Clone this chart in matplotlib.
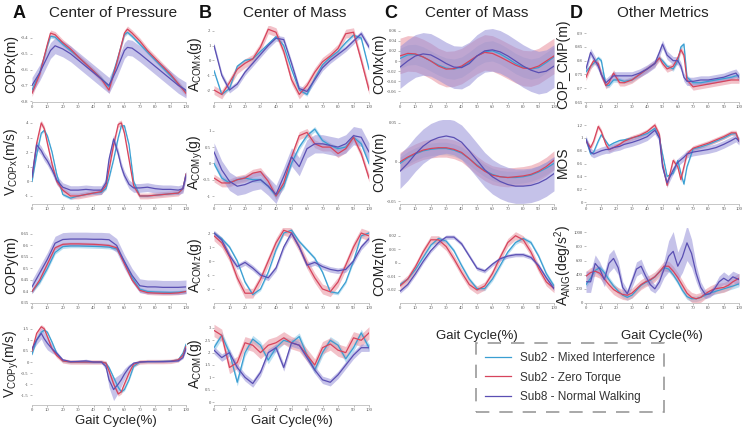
import numpy as np
import matplotlib
matplotlib.use('Agg')
from matplotlib import pyplot as plt
from matplotlib.ticker import FuncFormatter

plt.rcParams['font.family'] = ['Liberation Sans', 'DejaVu Sans']
plt.rcParams['mathtext.fontset'] = 'custom'
plt.rcParams['mathtext.rm'] = 'Liberation Sans'

# ---------------- data ----------------
X5 = list(range(0, 101, 5))
XA = [0, 3, 6, 8, 10, 13, 16, 20, 25, 30, 35, 40, 45, 48, 50, 53, 56, 58, 60, 63, 66, 70, 75, 80, 85, 90, 95, 98, 100]
XD = [0, 3, 5, 8, 10, 13, 15, 18, 22, 25, 30, 35, 40, 45, 48, 50, 53, 57, 60, 62, 64, 66, 70, 75, 80, 85, 90, 95, 98, 100]
XD3 = [0, 3, 6, 9, 12, 15, 18, 21, 24, 27, 30, 33, 36, 39, 42, 45, 48, 51, 54, 57, 60, 63, 66, 69, 72, 75, 78, 81, 84, 87, 90, 93, 96, 100]

# A - Center of Pressure
copx_x = [0, 5, 10, 12, 15, 20, 25, 30, 35, 40, 45, 50, 55, 60, 62, 65, 70, 75, 80, 85, 90, 95, 100]
copx_blue = [-0.73, -0.62, -0.45, -0.39, -0.395, -0.44, -0.48, -0.52, -0.565, -0.61, -0.655, -0.71, -0.55, -0.38, -0.365, -0.39, -0.44, -0.49, -0.54, -0.59, -0.64, -0.69, -0.74]
copx_red = [-0.75, -0.63, -0.44, -0.37, -0.38, -0.43, -0.47, -0.52, -0.565, -0.61, -0.66, -0.73, -0.56, -0.37, -0.345, -0.37, -0.42, -0.48, -0.53, -0.58, -0.63, -0.69, -0.75]
copx_purple = [-0.70, -0.62, -0.52, -0.48, -0.45, -0.47, -0.50, -0.54, -0.58, -0.62, -0.66, -0.70, -0.60, -0.48, -0.46, -0.465, -0.50, -0.54, -0.58, -0.62, -0.66, -0.70, -0.73]
copx_band = (0.012, 0.02, 0.05)

vcopx_blue = [0.0, 1.8, 3.3, 3.5, 3.1, 2.0, 0.5, -0.9, -1.15, -1.0, -0.9, -0.8, -0.75, -0.5, 0.2, 1.5, 3.0, 3.8, 3.8, 2.5, 0.0, -1.0, -1.0, -0.95, -0.9, -0.85, -0.8, -0.5, 0.5]
vcopx_red = [0.3, 2.6, 4.0, 3.6, 2.6, 1.2, 0.0, -0.6, -1.0, -1.0, -0.9, -0.8, -0.7, -0.3, 0.8, 2.5, 3.9, 4.0, 3.3, 1.5, -0.3, -1.0, -1.0, -0.95, -0.9, -0.85, -0.8, -0.5, 0.5]
vcopx_purple = [0.3, 2.5, 2.1, 1.7, 1.4, 0.8, 0.1, -0.4, -0.6, -0.6, -0.55, -0.6, -0.6, -0.1, 1.5, 2.9, 1.9, 1.0, 0.4, -0.2, -0.45, -0.45, -0.4, -0.5, -0.55, -0.55, -0.6, -0.5, 0.4]
vcopx_band = (0.1, 0.2, 0.3)

copy_blue = [0.40, 0.44, 0.50, 0.57, 0.595, 0.598, 0.598, 0.597, 0.596, 0.595, 0.593, 0.585, 0.53, 0.46, 0.41, 0.40, 0.398, 0.397, 0.396, 0.397, 0.40]
copy_red = [0.40, 0.45, 0.52, 0.59, 0.605, 0.607, 0.607, 0.606, 0.605, 0.603, 0.60, 0.59, 0.52, 0.45, 0.405, 0.395, 0.393, 0.392, 0.392, 0.394, 0.40]
copy_purple = [0.42, 0.48, 0.54, 0.61, 0.626, 0.628, 0.628, 0.628, 0.627, 0.627, 0.625, 0.60, 0.53, 0.47, 0.425, 0.42, 0.42, 0.418, 0.418, 0.418, 0.42]
copy_band = (0.008, 0.008, 0.03)

vcopy_blue = [0.35, 1.0, 1.35, 1.45, 1.35, 0.9, 0.4, 0.05, 0.0, 0.0, 0.0, 0.0, 0.0, -0.05, -0.25, -0.7, -1.15, -1.35, -1.25, -0.8, -0.2, 0.0, 0.02, 0.02, 0.03, 0.04, 0.1, 0.4, 0.8]
vcopy_red = [0.5, 1.3, 1.6, 1.5, 1.15, 0.6, 0.3, 0.05, 0.0, 0.0, 0.0, 0.0, 0.0, -0.05, -0.4, -1.0, -1.45, -1.35, -1.0, -0.5, -0.1, 0.0, 0.02, 0.02, 0.02, 0.03, 0.1, 0.3, 0.7]
vcopy_purple = [0.6, 1.0, 1.3, 1.05, 0.85, 0.6, 0.4, 0.1, 0.02, 0.03, 0.05, 0.0, 0.0, -0.2, -0.8, -1.25, -1.0, -0.8, -0.55, -0.25, -0.05, 0.0, 0.02, 0.02, 0.02, 0.03, 0.05, 0.2, 0.6]
vcopy_purple_band = [0.1, 0.2, 0.25, 0.3, 0.3, 0.2, 0.1, 0.05, 0.03, 0.05, 0.08, 0.05, 0.05, 0.15, 0.35, 0.5, 0.4, 0.3, 0.25, 0.15, 0.05, 0.03, 0.03, 0.03, 0.03, 0.03, 0.03, 0.05, 0.1]
vcopy_band = (0.06, 0.1, vcopy_purple_band)

# B - Center of Mass (acceleration)
acomx_blue = [-0.7, -2.3, -1.9, -0.4, 0.0, 0.1, 0.6, 1.1, 1.6, 1.0, -0.6, -2.0, -2.3, -1.2, -0.3, 0.2, 0.6, 1.2, 1.7, 1.5, -0.6]
acomx_red = [-2.0, -2.3, -1.5, -0.6, -0.2, 0.1, 0.9, 2.1, 1.9, 0.6, -1.3, -2.3, -1.7, -0.8, -0.1, 0.3, 0.8, 1.8, 1.9, 0.0, -2.0]
acomx_purple = [1.0, -1.0, -2.0, -1.6, -0.8, -0.2, 0.4, 1.0, 1.5, 1.4, -0.2, -1.9, -2.1, -1.3, -0.5, 0.0, 0.4, 0.8, 1.3, 1.8, 0.9]
acomx_band = (0.12, 0.3, 0.2)

acomy_blue = [0.0, -0.45, -0.6, -0.5, -0.45, -0.5, -0.5, -0.7, -1.0, -0.7, 0.0, 0.5, 0.85, 1.05, 0.7, 0.55, 0.45, 0.5, 0.8, 0.6, 0.0]
acomy_red = [-0.45, -0.6, -0.6, -0.5, -0.45, -0.3, -0.25, -0.55, -1.0, -0.6, 0.2, 0.85, 0.95, 0.6, 0.5, 0.5, 0.3, 0.45, 0.8, 0.3, -0.45]
acomy_purple = [0.35, -0.2, -0.55, -0.7, -0.65, -0.55, -0.5, -0.7, -0.95, -0.4, 0.2, -0.1, 0.45, 0.6, 0.6, 0.55, 0.5, 0.6, 0.85, 0.8, 0.35]
acomy_band = (0.08, 0.12, 0.28)

acomz_blue = [2.0, 1.6, 1.0, 0.0, -1.5, -2.4, -2.0, -0.8, 0.8, 2.0, 2.2, 1.4, 0.8, 0.2, -0.8, -2.2, -2.3, -1.5, 0.0, 1.8, 2.0]
acomz_red = [1.8, 1.3, 0.3, -1.2, -2.3, -2.3, -1.3, 0.0, 1.3, 2.2, 2.0, 1.0, -0.2, -1.2, -2.0, -2.2, -1.5, -0.3, 1.0, 2.0, 1.8]
acomz_purple = [2.0, 1.5, 0.4, -0.4, -0.1, -0.5, -1.0, -1.2, -0.5, 1.0, 2.0, 1.0, -0.3, -0.1, -0.4, -0.6, -0.7, -0.6, 0.0, 1.0, 1.6]
acomz_band = (0.12, 0.35, 0.2)

acom_blue = [2.2, 2.7, 2.0, 0.8, 2.0, 2.55, 2.3, 1.7, 2.2, 2.5, 2.4, 2.65, 1.9, 1.3, 2.0, 2.5, 2.3, 1.75, 2.2, 2.8, 2.2]
acom_red = [2.9, 2.7, 1.4, 1.6, 2.4, 2.3, 2.0, 2.3, 2.4, 2.6, 2.4, 2.3, 1.9, 1.5, 2.2, 2.35, 2.1, 2.0, 2.6, 2.5, 2.8]
acom_purple = [2.1, 1.8, 2.0, 1.4, 1.0, 0.75, 1.2, 2.0, 2.2, 1.4, 2.4, 2.3, 1.8, 1.3, 0.9, 0.8, 1.1, 1.5, 1.9, 2.2, 2.2]
acom_band = (0.15, 0.25, 0.15)

# C - Center of Mass (position)
comx_blue = [0.005, 0.012, 0.013, 0.008, 0.0, -0.008, -0.014, -0.016, -0.012, -0.002, 0.01, 0.018, 0.02, 0.014, 0.005, -0.005, -0.012, -0.016, -0.013, -0.003, 0.008]
comx_red = [0.01, 0.015, 0.014, 0.008, 0.0, -0.01, -0.016, -0.015, -0.01, 0.0, 0.01, 0.017, 0.015, 0.008, 0.0, -0.008, -0.014, -0.015, -0.01, 0.0, 0.01]
comx_purple = [-0.012, 0.0, 0.01, 0.014, 0.012, 0.004, -0.005, -0.012, -0.013, -0.005, 0.01, 0.02, 0.022, 0.018, 0.01, 0.0, -0.01, -0.018, -0.023, -0.02, -0.01]
comx_band = (0.02, 0.035, 0.042)

comy_blue = [-0.002, 0.005, 0.01, 0.014, 0.016, 0.017, 0.017, 0.015, 0.011, 0.004, -0.004, -0.011, -0.016, -0.019, -0.02, -0.02, -0.019, -0.017, -0.013, -0.008, -0.002]
comy_red = [0.0, 0.006, 0.011, 0.015, 0.017, 0.018, 0.018, 0.016, 0.012, 0.004, -0.005, -0.012, -0.017, -0.019, -0.02, -0.019, -0.018, -0.016, -0.012, -0.006, 0.002]
comy_purple = [-0.012, -0.002, 0.01, 0.02, 0.027, 0.031, 0.033, 0.031, 0.025, 0.014, 0.002, -0.01, -0.019, -0.025, -0.029, -0.031, -0.031, -0.03, -0.027, -0.022, -0.015]
comy_band = (0.008, 0.012, 0.022)

comz_blue = [-0.016, -0.012, -0.005, 0.004, 0.013, 0.018, 0.016, 0.009, -0.002, -0.012, -0.019, -0.019, -0.012, -0.002, 0.008, 0.015, 0.018, 0.015, 0.005, -0.008, -0.017]
comz_red = [-0.017, -0.012, -0.003, 0.008, 0.017, 0.017, 0.012, 0.003, -0.007, -0.016, -0.02, -0.017, -0.008, 0.004, 0.015, 0.02, 0.017, 0.008, -0.004, -0.014, -0.019]
comz_purple = [-0.021, -0.016, -0.008, 0.001, 0.009, 0.015, 0.019, 0.019, 0.014, 0.005, -0.004, -0.006, -0.001, 0.003, 0.005, 0.006, 0.006, 0.004, -0.002, -0.011, -0.019]
comz_band = (0.0015, 0.003, 0.0015)

# D - Other Metrics
cop_blue = [0.76, 0.78, 0.79, 0.81, 0.80, 0.71, 0.71, 0.73, 0.73, 0.725, 0.73, 0.75, 0.77, 0.79, 0.81, 0.80, 0.78, 0.77, 0.80, 0.85, 0.86, 0.74, 0.72, 0.72, 0.725, 0.73, 0.735, 0.74, 0.745, 0.745]
cop_red = [0.74, 0.78, 0.80, 0.79, 0.75, 0.71, 0.72, 0.755, 0.72, 0.72, 0.73, 0.75, 0.77, 0.79, 0.81, 0.79, 0.77, 0.78, 0.81, 0.84, 0.82, 0.73, 0.705, 0.71, 0.715, 0.72, 0.725, 0.73, 0.73, 0.73]
cop_purple = [0.77, 0.83, 0.81, 0.78, 0.75, 0.72, 0.73, 0.745, 0.745, 0.745, 0.745, 0.755, 0.77, 0.79, 0.83, 0.86, 0.82, 0.80, 0.80, 0.78, 0.74, 0.725, 0.725, 0.73, 0.73, 0.735, 0.74, 0.75, 0.755, 0.74]
cop_band = (0.008, 0.012, 0.015)

mos_blue = [0.98, 0.75, 0.78, 0.95, 1.05, 0.95, 0.88, 0.92, 0.96, 0.97, 1.0, 1.03, 1.07, 1.15, 1.0, 0.75, 0.4, 0.45, 0.65, 0.45, 0.28, 0.55, 0.83, 0.86, 0.9, 0.95, 1.0, 1.06, 1.07, 0.95]
mos_red = [0.95, 0.85, 0.95, 1.18, 1.10, 0.90, 0.82, 0.85, 0.9, 0.95, 1.0, 1.04, 1.1, 1.2, 1.05, 0.6, 0.26, 0.65, 0.55, 0.35, 0.55, 0.75, 0.84, 0.88, 0.92, 0.97, 1.02, 1.08, 1.08, 0.95]
mos_purple = [0.98, 0.78, 0.75, 0.78, 0.80, 0.82, 0.82, 0.85, 0.87, 0.9, 0.93, 0.97, 1.02, 1.12, 1.0, 0.55, 0.3, 0.5, 0.62, 0.66, 0.7, 0.75, 0.78, 0.8, 0.82, 0.85, 0.9, 0.96, 1.0, 0.95]
mos_band = (0.02, 0.04, 0.06)

aang_blue = [260, 350, 460, 500, 430, 330, 240, 170, 110, 80, 110, 180, 250, 290, 320, 370, 440, 500, 480, 400, 300, 180, 90, 60, 60, 80, 110, 140, 160, 180, 200, 220, 240, 270]
aang_red = [380, 430, 450, 420, 340, 260, 190, 150, 120, 110, 140, 200, 260, 300, 330, 370, 440, 520, 520, 450, 360, 250, 140, 80, 60, 80, 130, 170, 200, 210, 220, 250, 300, 350]
aang_purple = [300, 300, 560, 480, 330, 560, 630, 500, 220, 130, 300, 480, 520, 380, 260, 200, 300, 480, 660, 730, 520, 650, 850, 700, 420, 220, 120, 130, 200, 300, 350, 310, 370, 330]
aang_purple_band = [150, 150, 120, 100, 100, 130, 130, 100, 80, 60, 80, 100, 100, 80, 80, 60, 80, 120, 220, 280, 200, 220, 250, 200, 120, 80, 60, 50, 60, 80, 90, 80, 80, 80]
aang_band = (40, 70, aang_purple_band)

series_labels = ['Sub2 - Mixed Interference', 'Sub2 - Zero Torque', 'Sub8 - Normal Walking']
line_colors = ['#3a9fd2', '#d7445c', '#5a4fb3']
band_colors = ['#86c6e8', '#e8909e', '#9690d8']

# ---------------- layout (pixels of a 749x432 canvas) ----------------
W, H = 749, 432
cols = [(32, 186), (214, 369), (400, 554), (586, 739)]
rows = [(26, 102), (120, 204), (228, 303), (323, 405)]

panels = [
    (0, 0, copx_x, (copx_blue, copx_red, copx_purple), copx_band, (-0.805, -0.325), [-0.8, -0.7, -0.6, -0.5, -0.4], 'COPx(m)'),
    (0, 1, XA, (vcopx_blue, vcopx_red, vcopx_purple), vcopx_band, (-1.55, 4.2), [-1, 0, 1, 2, 3, 4], r'V$_{\mathregular{COPx}}$(m/s)'),
    (0, 2, X5, (copy_blue, copy_red, copy_purple), copy_band, (0.35, 0.676), [0.35, 0.4, 0.45, 0.5, 0.55, 0.6, 0.65], 'COPy(m)'),
    (0, 3, XA, (vcopy_blue, vcopy_red, vcopy_purple), vcopy_band, (-1.95, 1.77), [-1.5, -1, -0.5, 0, 0.5, 1, 1.5], r'V$_{\mathregular{COPy}}$(m/s)'),
    (1, 0, X5, (acomx_blue, acomx_red, acomx_purple), acomx_band, (-2.81, 2.32), [-2, -1, 0, 1, 2], r'A$_{\mathregular{COMx}}$(g)'),
    (1, 1, X5, (acomy_blue, acomy_red, acomy_purple), acomy_band, (-1.245, 1.33), [-1, -0.5, 0, 0.5, 1], r'A$_{\mathregular{COMy}}$(g)'),
    (1, 2, X5, (acomz_blue, acomz_red, acomz_purple), acomz_band, (-3.0, 2.36), [-2, -1, 0, 1, 2], r'A$_{\mathregular{COMz}}$(g)'),
    (1, 3, X5, (acom_blue, acom_red, acom_purple), acom_band, (-0.12, 3.2), [0, 0.5, 1, 1.5, 2, 2.5, 3], r'A$_{\mathregular{COM}}$(g)'),
    (2, 0, X5, (comx_blue, comx_red, comx_purple), comx_band, (-0.0808, 0.069), [-0.06, -0.04, -0.02, 0, 0.02, 0.04, 0.06], 'COMx(m)'),
    (2, 1, X5, (comy_blue, comy_red, comy_purple), comy_band, (-0.0538, 0.0534), [-0.05, 0, 0.05], 'COMy(m)'),
    (2, 2, X5, (comz_blue, comz_red, comz_purple), comz_band, (-0.0296, 0.0257), [-0.02, -0.01, 0, 0.01, 0.02], 'COMz(m)'),
    (3, 0, XD, (cop_blue, cop_red, cop_purple), cop_band, (0.65, 0.926), [0.65, 0.7, 0.75, 0.8, 0.85, 0.9], 'COP_CMP(m)'),
    (3, 1, XD, (mos_blue, mos_red, mos_purple), mos_band, (-0.03, 1.28), [0, 0.2, 0.4, 0.6, 0.8, 1, 1.2], 'MOS'),
    (3, 2, XD3, (aang_blue, aang_red, aang_purple), aang_band, (0, 1060), [0, 200, 400, 600, 800, 1000], r'A$_{\mathregular{ANG}}$(deg/s$^{\mathregular{2}}$)'),
]

fig = plt.figure(figsize=(W / 100, H / 100), dpi=100)
tick_fmt = FuncFormatter(lambda v, p: '%g' % round(v, 4))
handles = []

for c, r, x, ys, bands, ylim, yticks, ylabel in panels:
    x0, x1 = cols[c]
    y0, y1 = rows[r]
    ax = fig.add_axes([x0 / W, 1 - y1 / H, (x1 - x0) / W, (y1 - y0) / H])
    xs = np.array(x, dtype=float)
    for i in range(3):
        m = np.array(ys[i], dtype=float)
        b = np.array(bands[i], dtype=float)
        ax.fill_between(xs, m - b, m + b, color=band_colors[i], alpha=0.55, lw=0)
    for i in range(3):
        ln, = ax.plot(xs, ys[i], color=line_colors[i], lw=0.9)
        if c == 0 and r == 0:
            handles.append(ln)
    ax.set_xlim(0, 100)
    ax.set_ylim(*ylim)
    ax.set_xticks(range(0, 101, 10))
    ax.set_yticks(yticks)
    ax.yaxis.set_major_formatter(tick_fmt)
    ax.tick_params(labelsize=3.4, length=1.4, width=0.4, colors='#8a8a8a', pad=1.0,
                   labelcolor='#555555')
    for lab in ax.get_xticklabels() + ax.get_yticklabels():
        lab.set_family('Liberation Serif')
    for s in ['top', 'right', 'left']:
        ax.spines[s].set_visible(False)
    ax.spines['bottom'].set_color('#bdbdbd')
    ax.spines['bottom'].set_linewidth(0.6)
    ax.patch.set_alpha(0)

    # y label in fixed column position
    ylx = [11, 195, 379, 563][c]
    fig.text(ylx / W, 1 - (y0 + y1) / 2 / H, ylabel, rotation=90, ha='center', va='center',
             fontsize=10, color='#222222')

# titles and panel letters
for letter, lx, title, tx in [('A', 19, 'Center of Pressure', 113), ('B', 205, 'Center of Mass', 295),
                              ('C', 391, 'Center of Mass', 477), ('D', 576, 'Other Metrics', 663)]:
    fig.text(lx / W, 1 - 13 / H, letter, ha='center', va='center', fontsize=13, fontweight='bold', color='#111111')
    fig.text(tx / W, 1 - 13 / H, title, ha='center', va='center', fontsize=11, color='#222222')

# x labels
for xc, yc in [(116, 421), (292, 421), (477, 336), (662, 336)]:
    fig.text(xc / W, 1 - yc / H, 'Gait Cycle(%)', ha='center', va='center', fontsize=9.5, color='#222222')

leg = fig.legend(handles, series_labels, loc='center', bbox_to_anchor=(570 / W, 1 - 377.5 / H),
                 frameon=True, fancybox=False, edgecolor='#808080', fontsize=8.5,
                 handlelength=2.2, handletextpad=0.7, labelspacing=0.62, borderpad=0.8,
                 borderaxespad=0)
frame = leg.get_frame()
frame.set_linestyle((0, (8, 6)))
frame.set_linewidth(1.2)
for t in leg.get_texts():
    t.set_color('#333333')

fig.savefig('out.png', dpi=100)
